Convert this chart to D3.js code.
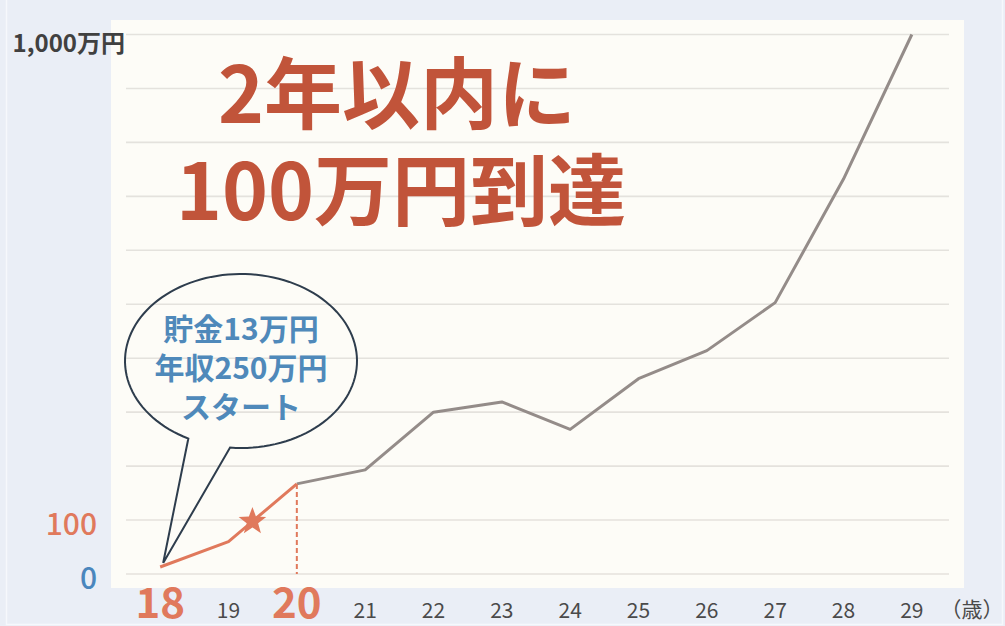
<!DOCTYPE html>
<html><head><meta charset="utf-8">
<script src="https://cdn.jsdelivr.net/npm/d3@7"></script>
<style>html,body{margin:0;padding:0;background:#EAEEF6;}svg{display:block;}</style>
</head><body><svg id="c" width="1005" height="626"></svg>
<script>
// ---- data ----
const ages = [18,19,20,21,22,23,24,25,26,27,28,29];
const savings = [13,60,167,193,300,319,268,362,414,503,732,1000]; // 万円
const gridValues = [0,100,200,300,400,500,600,700,800,900,1000];
const yLabels = [{v:0,t:"0"},{v:100,t:"100"},{v:1000,t:"1,000万円"}];
const highlightAges = [18,20];
const titleLines = ["2年以内に","100万円到達"];
const bubbleLines = ["貯金13万円","年収250万円","スタート"];
const unitLabel = "（歳）";
const starAge = 19.35;

const FONT = "'Noto Sans CJK JP','Noto Sans',sans-serif";
const svg = d3.select("#c");

// background & panel
svg.append("rect").attr("x",0).attr("y",0).attr("width",1005).attr("height",626).attr("fill","#EAEEF6");
svg.append("rect").attr("x",6.5).attr("y",-2).attr("width",996).attr("height",626.5).attr("fill","none").attr("stroke","#F6F8FC").attr("stroke-width",1.5);
svg.append("rect").attr("x",111).attr("y",20).attr("width",853).attr("height",568).attr("fill","#FDFCF7");

const x = d3.scaleBand().domain(ages).range([126,946]).padding(0);
const xc = a => x(a) + x.bandwidth()/2;
const y = d3.scaleLinear().domain([0,1000]).range([574,34.5]);

// grid
svg.append("g").selectAll("line").data(gridValues).join("line")
  .attr("x1",126).attr("x2",949).attr("y1",d=>y(d)).attr("y2",d=>y(d))
  .attr("stroke","#E4E2DD").attr("stroke-width",1.6);

// y labels
svg.append("g").selectAll("text").data(yLabels).join("text")
  .attr("x",d=>d.v===1000?125:97).attr("y",d=>y(d.v)+ (d.v===1000?7:2))
  .attr("text-anchor","end").attr("dominant-baseline","central")
  .attr("font-family",FONT)
  .attr("font-weight",d=>d.v===1000?"bold":"500")
  .attr("font-size",d=>d.v===1000?24:30)
  .attr("fill",d=>d.v===1000?"#404040":(d.v===100?"#E0795C":"#4A86BD"))
  .text(d=>d.t);

// x labels
svg.append("g").selectAll("text").data(ages).join("text")
  .attr("x",d=>xc(d)).attr("y",d=>highlightAges.includes(d)?599:609)
  .attr("text-anchor","middle").attr("dominant-baseline","central")
  .attr("font-family",FONT)
  .attr("font-weight",d=>highlightAges.includes(d)?"bold":"normal")
  .attr("font-size",d=>highlightAges.includes(d)?42:21)
  .attr("fill",d=>highlightAges.includes(d)?"#E0795C":"#4A4A4A")
  .text(d=>d);
svg.append("text").attr("x",972).attr("y",608).attr("text-anchor","middle").attr("dominant-baseline","central")
  .attr("font-family",FONT).attr("font-size",21).attr("fill","#4A4A4A").text(unitLabel);

// data
const pts = ages.map((a,i)=>({a,v:savings[i]}));
const line = d3.line().x(d=>xc(d.a)).y(d=>y(d.v));
const i20 = ages.indexOf(20);
svg.append("path").datum(pts.slice(i20)).attr("d",line).attr("fill","none")
  .attr("stroke","#948C89").attr("stroke-width",3).attr("stroke-linejoin","round");
svg.append("path").datum(pts.slice(0,i20+1)).attr("d",line).attr("fill","none")
  .attr("stroke","#E0795C").attr("stroke-width",3).attr("stroke-linejoin","round");
// dashed drop line at 20
svg.append("line").attr("x1",xc(20)).attr("x2",xc(20)).attr("y1",y(savings[i20])).attr("y2",y(0))
  .attr("stroke","#E0795C").attr("stroke-width",2).attr("stroke-dasharray","5,3");

// star on line
const i19 = ages.indexOf(19);
const f = starAge-19;
const sx = xc(19)+(xc(20)-xc(19))*f;
const sy = y(savings[i19])+(y(savings[i20])-y(savings[i19]))*f;
const starPts = d3.range(10).map(k=>{const r=k%2?6:14.5;const ang=-Math.PI/2+k*Math.PI/5;return [sx+r*Math.cos(ang),sy+r*Math.sin(ang)];});
svg.append("path").attr("d","M"+starPts.map(p=>p.join(",")).join("L")+"Z").attr("fill","#E0795C");

// speech bubble
const tipX = xc(18)+3, tipY = y(savings[0])-4;
const cx = 241, cy = 361, rx = 116, ry = 87;
const t1 = 117*Math.PI/180, t2 = (95.4+360)*Math.PI/180;
const arcPts = d3.range(0,1.0001,1/120).map(u=>{const t=t1+(t2-t1)*u;return [cx+rx*Math.cos(t),cy+ry*Math.sin(t)];});
const bubble = [[tipX,tipY]].concat(arcPts).concat([[tipX,tipY]]);
svg.append("path").attr("d","M"+bubble.map(p=>p.join(",")).join("L")).attr("fill","none")
  .attr("stroke","#2E3D4D").attr("stroke-width",2).attr("stroke-linejoin","miter");
svg.append("g").selectAll("text").data(bubbleLines).join("text")
  .attr("x",241).attr("y",(d,i)=>327+i*39).attr("text-anchor","middle").attr("dominant-baseline","central")
  .attr("font-family",FONT).attr("font-weight","bold").attr("font-size",30).attr("fill","#4F89BA")
  .text(d=>d);

// title
svg.append("g").selectAll("text").data(titleLines).join("text")
  .attr("x",(d,i)=>i?401:397).attr("y",(d,i)=>89+i*97).attr("text-anchor","middle").attr("dominant-baseline","central")
  .attr("font-family",FONT).attr("font-weight","bold").attr("font-size",78).attr("fill","#C1543A")
  .text(d=>d);
</script></body></html>
